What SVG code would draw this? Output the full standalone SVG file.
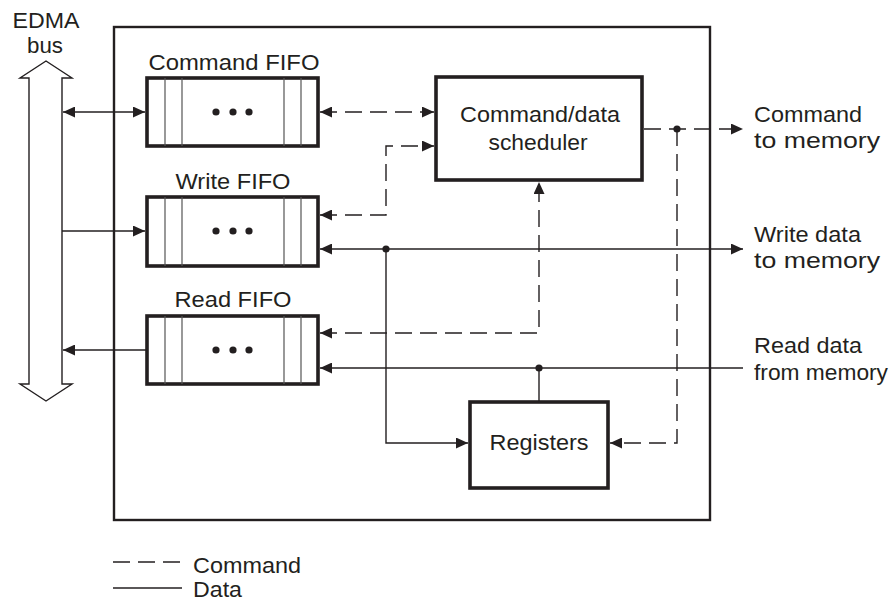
<svg xmlns="http://www.w3.org/2000/svg" width="896" height="601" viewBox="0 0 896 601">
<defs>
<marker id="ah" viewBox="0 0 12 11" refX="12" refY="5.5" markerWidth="12" markerHeight="11" markerUnits="userSpaceOnUse" orient="auto-start-reverse">
<path d="M0,0 L12,5.5 L0,11 z" fill="#231f20"/>
</marker>
<style>
text{font-family:"Liberation Sans",Arial,sans-serif;font-size:22px;fill:#231f20}
.box{fill:#fff;stroke:#231f20;stroke-width:3.6}
.inner{stroke:#555;stroke-width:1.2;fill:none}
.c{fill:none;stroke:#231f20;stroke-width:1.4}
.d{fill:none;stroke:#231f20;stroke-width:1.4;stroke-dasharray:17 8}
.dot{fill:#231f20}
</style>
</defs>
<rect width="896" height="601" fill="#fff"/>

<g id="edma-bus">
<polygon points="46,61 72,78 62,78 62,384 72,384 46,401 20,384 29,384 29,78 20,78" fill="#fff" stroke="#231f20" stroke-width="1.4"/>
<text x="46" y="28" text-anchor="middle" textLength="67" lengthAdjust="spacingAndGlyphs">EDMA</text>
<text x="45" y="53" text-anchor="middle" textLength="36" lengthAdjust="spacingAndGlyphs">bus</text>
</g>

<g id="outer">
<rect x="114" y="27" width="596" height="493" fill="none" stroke="#231f20" stroke-width="2.4"/>
</g>

<g id="command-fifo">
<text x="234" y="70" text-anchor="middle" textLength="171" lengthAdjust="spacingAndGlyphs">Command FIFO</text>
<rect class="box" x="147" y="78" width="171" height="68"/>
<path class="inner" d="M165,78V146M182,78V146M284,78V146M301,78V146"/>
<circle class="dot" cx="216" cy="112" r="3.6"/><circle class="dot" cx="233" cy="112" r="3.6"/><circle class="dot" cx="249" cy="112" r="3.6"/>
</g>

<g id="write-fifo">
<text x="233" y="189" text-anchor="middle" textLength="115" lengthAdjust="spacingAndGlyphs">Write FIFO</text>
<rect class="box" x="147" y="197" width="171" height="69"/>
<path class="inner" d="M165,197V266M182,197V266M284,197V266M301,197V266"/>
<circle class="dot" cx="216" cy="231" r="3.6"/><circle class="dot" cx="233" cy="231" r="3.6"/><circle class="dot" cx="249" cy="231" r="3.6"/>
</g>

<g id="read-fifo">
<text x="233" y="307" text-anchor="middle" textLength="117" lengthAdjust="spacingAndGlyphs">Read FIFO</text>
<rect class="box" x="147" y="316" width="171" height="68"/>
<path class="inner" d="M165,316V384M182,316V384M284,316V384M301,316V384"/>
<circle class="dot" cx="216" cy="350" r="3.6"/><circle class="dot" cx="233" cy="350" r="3.6"/><circle class="dot" cx="249" cy="350" r="3.6"/>
</g>

<g id="scheduler">
<rect class="box" x="436" y="77" width="206" height="103"/>
<text x="540" y="122" text-anchor="middle" textLength="160" lengthAdjust="spacingAndGlyphs">Command/data</text>
<text x="538" y="150" text-anchor="middle" textLength="99" lengthAdjust="spacingAndGlyphs">scheduler</text>
</g>

<g id="registers">
<rect class="box" x="470" y="402" width="138" height="86"/>
<text x="539" y="450" text-anchor="middle" textLength="99" lengthAdjust="spacingAndGlyphs">Registers</text>
</g>

<g id="connectors">
<path class="c" d="M63,112H145" marker-start="url(#ah)" marker-end="url(#ah)"/>
<path class="c" d="M62,231H145" marker-end="url(#ah)"/>
<path class="c" d="M147,350H63" marker-end="url(#ah)"/>
<path class="d" d="M320,112H434" marker-start="url(#ah)" marker-end="url(#ah)"/>
<path class="d" d="M320,215H386V146H434" marker-start="url(#ah)" marker-end="url(#ah)"/>
<path class="c" d="M320,249H743" marker-start="url(#ah)" marker-end="url(#ah)"/>
<circle class="dot" cx="386" cy="249" r="3.6"/>
<path class="c" d="M386,249V443H468" marker-end="url(#ah)"/>
<path class="d" d="M320,333H539V182" marker-start="url(#ah)" marker-end="url(#ah)"/>
<path class="c" d="M743,368H320" marker-end="url(#ah)"/>
<circle class="dot" cx="539" cy="368" r="3.6"/>
<path class="c" d="M539,368V402"/>
<path class="d" d="M644,129H743" marker-end="url(#ah)"/>
<circle class="dot" cx="677" cy="129" r="3.6"/>
<path class="d" d="M677,129V443H610" marker-end="url(#ah)"/>
</g>

<g id="external-labels">
<text x="754" y="122" textLength="108" lengthAdjust="spacingAndGlyphs">Command</text>
<text x="754" y="148" textLength="126" lengthAdjust="spacingAndGlyphs">to memory</text>
<text x="754" y="242" textLength="107" lengthAdjust="spacingAndGlyphs">Write data</text>
<text x="754" y="268" textLength="126" lengthAdjust="spacingAndGlyphs">to memory</text>
<text x="754" y="353" textLength="108" lengthAdjust="spacingAndGlyphs">Read data</text>
<text x="754" y="380" textLength="134" lengthAdjust="spacingAndGlyphs">from memory</text>
</g>

<g id="legend">
<path d="M113,562H182" fill="none" stroke="#231f20" stroke-width="1.4" stroke-dasharray="17 8"/>
<text x="193" y="573" textLength="108" lengthAdjust="spacingAndGlyphs">Command</text>
<path d="M113,588H182" fill="none" stroke="#231f20" stroke-width="1.4"/>
<text x="193" y="597" textLength="49" lengthAdjust="spacingAndGlyphs">Data</text>
</g>
</svg>
